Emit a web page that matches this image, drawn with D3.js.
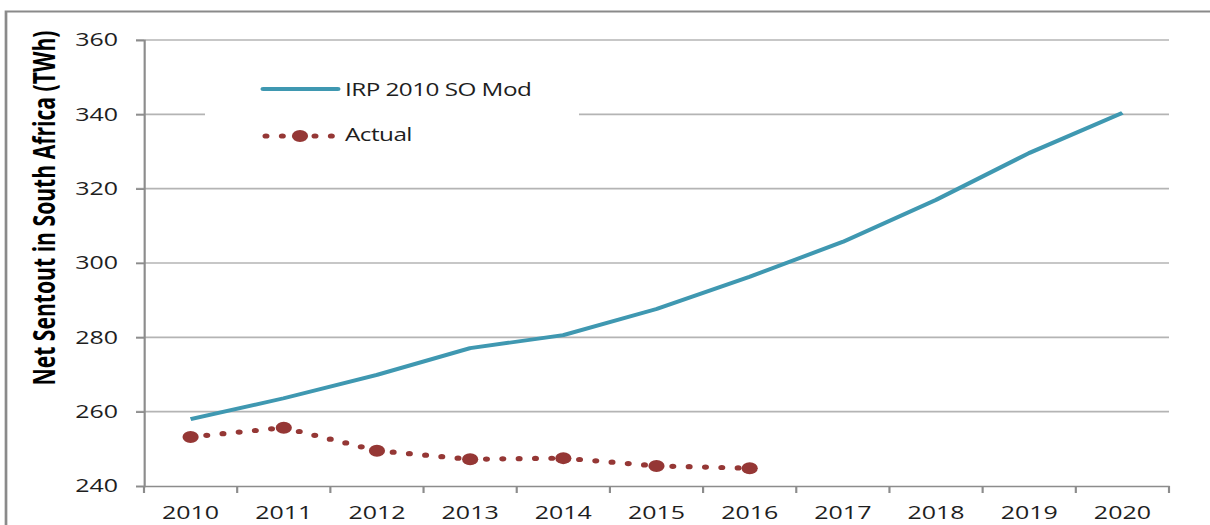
<!DOCTYPE html>
<html>
<head>
<meta charset="utf-8">
<script src="https://cdn.jsdelivr.net/npm/d3@7"></script>
<style>
  html, body { margin: 0; padding: 0; background: #fff; }
  svg { display: block; }
</style>
</head>
<body>
<svg id="chart"></svg>
<script>
// data
const years = ["2010","2011","2012","2013","2014","2015","2016","2017","2018","2019","2020"];
const irpValues = [258.0, 263.6, 269.9, 277.1, 280.6, 287.6, 296.3, 305.7, 317.0, 329.6, 340.4];
const actualYears = ["2010","2011","2012","2013","2014","2015","2016"];
const actualValues = [253.2, 255.7, 249.5, 247.2, 247.5, 245.4, 244.8];
const yTicks = [240, 260, 280, 300, 320, 340, 360];
const seriesNames = ["IRP 2010 SO Mod", "Actual"];

const W = 1210, H = 525;
const sx = 1.35; // the original picture is stretched sideways
const svg = d3.select("#chart")
    .attr("width", W).attr("height", H)
    .attr("viewBox", `0 0 ${W / sx} ${H}`)
    .attr("preserveAspectRatio", "none");

const plotLeft = 144 / sx, plotRight = 1169 / sx, plotTop = 40, plotBottom = 486;
const teal = "#3f98b1", red = "#953735", grid = "#b4b4b4", axisCol = "#8c8c8c";
const font = "'Open Sans', sans-serif";

// outer frame
svg.append("path")
    .attr("d", `M${W / sx},11.5 H${6 / sx} V${H}`)
    .attr("fill", "none").attr("stroke", "#8a8a8a").attr("stroke-width", 2);

let x = d3.scaleBand().domain(years).range([plotLeft, plotRight]);
let y = d3.scaleLinear().domain([240, 360]).range([plotBottom, plotTop]);
let cx = d => x(d) + x.bandwidth() / 2;

// gridlines
svg.append("g").selectAll("line")
    .data(yTicks.slice(1))
    .join("line")
    .attr("x1", 136 / sx).attr("x2", plotRight)
    .attr("y1", d => y(d)).attr("y2", d => y(d))
    .attr("stroke", grid).attr("stroke-width", 1.6);

// y axis
const yAxis = svg.append("g")
    .attr("transform", `translate(${plotLeft},0)`)
    .call(d3.axisLeft(y).tickValues(yTicks).tickSize(8 / sx).tickPadding(18 / sx));
yAxis.select(".domain").attr("stroke", axisCol).attr("stroke-width", 1.6);
yAxis.selectAll(".tick line").attr("stroke", axisCol).attr("stroke-width", 1.6);
yAxis.selectAll("text")
    .style("font-family", font).style("font-size", "18.5px").attr("fill", "#1e1e1e");

// x axis
const xAxis = svg.append("g")
    .attr("transform", `translate(0,${plotBottom})`)
    .call(d3.axisBottom(x).tickSize(0).tickPadding(20));
xAxis.select(".domain").attr("stroke", axisCol).attr("stroke-width", 1.6);
xAxis.selectAll("text")
    .style("font-family", font).style("font-size", "18.5px").attr("fill", "#1e1e1e");
xAxis.append("g").selectAll("line")
    .data(years.concat(["end"]))
    .join("line")
    .attr("x1", d => d === "end" ? plotRight : x(d))
    .attr("x2", d => d === "end" ? plotRight : x(d))
    .attr("y1", 0).attr("y2", 7)
    .attr("stroke", axisCol).attr("stroke-width", 1.6);

// IRP line
const irp = years.map((d, i) => ({year: d, value: irpValues[i]}));
svg.append("path")
    .datum(irp)
    .attr("d", d3.line().x(d => cx(d.year)).y(d => y(d.value)))
    .attr("fill", "none").attr("stroke", teal).attr("stroke-width", 3.8)
    .attr("stroke-linejoin", "round");

// Actual: dotted line with big markers
const actual = actualYears.map((d, i) => ({year: d, value: actualValues[i]}));
const actualG = svg.append("g");
actualG.selectAll("path")
    .data(d3.pairs(actual))
    .join("path")
    .attr("d", p => d3.line().x(d => cx(d.year)).y(d => y(d.value))(p))
    .attr("fill", "none").attr("stroke", red).attr("stroke-width", 5.2)
    .attr("stroke-linecap", "round").attr("stroke-dasharray", "0 12.1")
    .attr("stroke-dashoffset", -12.1);
actualG.selectAll("circle")
    .data(actual)
    .join("circle")
    .attr("cx", d => cx(d.year)).attr("cy", d => y(d.value))
    .attr("r", 6).attr("fill", red);

// legend
const lg = svg.append("g");
lg.append("rect")
    .attr("x", 205 / sx).attr("y", 62).attr("width", 374 / sx).attr("height", 98)
    .attr("fill", "#fff");
lg.append("line")
    .attr("x1", 263 / sx).attr("x2", 338 / sx).attr("y1", 89).attr("y2", 89)
    .attr("stroke", teal).attr("stroke-width", 3.8).attr("stroke-linecap", "round");
lg.append("line")
    .attr("x1", 266 / sx).attr("x2", 333 / sx).attr("y1", 136).attr("y2", 136)
    .attr("stroke", red).attr("stroke-width", 5.2).attr("stroke-linecap", "round")
    .attr("stroke-dasharray", "0 12.1");
lg.append("circle")
    .attr("cx", 300 / sx).attr("cy", 136).attr("r", 6).attr("fill", red);
lg.selectAll("text")
    .data(seriesNames)
    .join("text")
    .attr("x", 345 / sx)
    .attr("y", (d, i) => 96 + i * 45)
    .style("font-family", font).style("font-size", "18px")
    .style("letter-spacing", "-0.4px").attr("fill", "#1e1e1e")
    .text(d => d);

// y axis title
svg.append("text")
    .attr("transform", `translate(${55 / sx},208) rotate(-90)`)
    .attr("text-anchor", "middle")
    .style("font-family", font).style("font-size", "23px").style("font-weight", "bold")
    .attr("textLength", 355).attr("lengthAdjust", "spacingAndGlyphs")
    .attr("fill", "#000")
    .text("Net Sentout in South Africa (TWh)");
</script>
</body>
</html>
